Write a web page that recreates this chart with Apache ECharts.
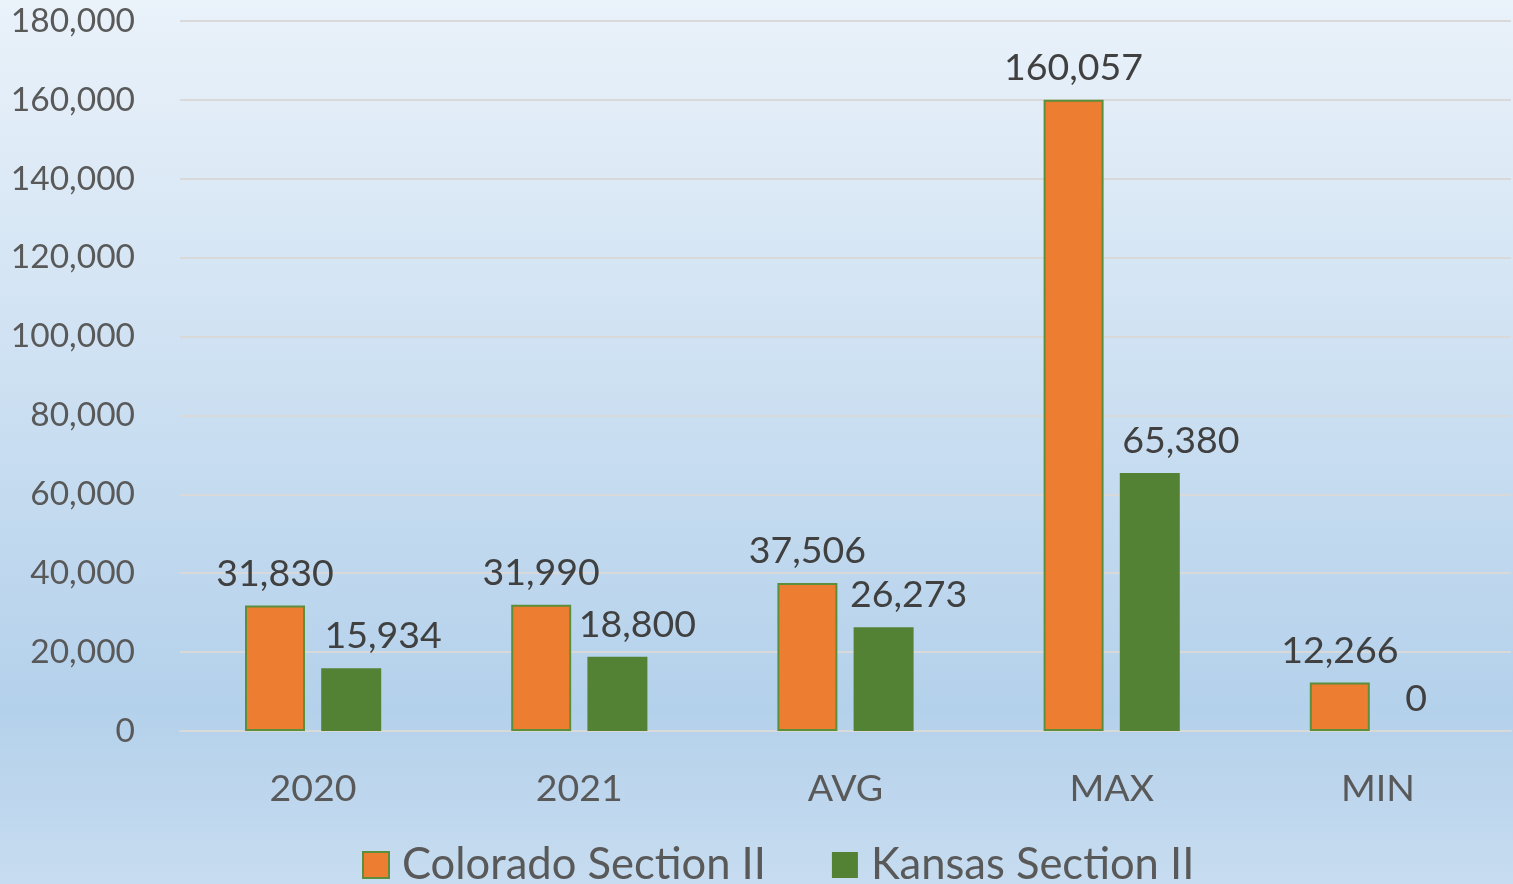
<!DOCTYPE html>
<html>
<head>
<meta charset="utf-8">
<script src="https://cdn.jsdelivr.net/npm/echarts@6/dist/echarts.min.js"></script>
<style>
html,body{margin:0;padding:0;width:1513px;height:884px;overflow:hidden;}
#c{width:1513px;height:884px;}
</style>
</head>
<body>
<div id="c"></div>
<script>
const categories = ['2020', '2021', 'AVG', 'MAX', 'MIN'];
const coloradoValues = [31830, 31990, 37506, 160057, 12266];
const kansasValues = [15934, 18800, 26273, 65380, 0];
const seriesNames = ['Colorado Section II', 'Kansas Section II'];
const yTicks = { min: 0, max: 180000, interval: 20000 };

// label horizontal nudges (styling only)
const kansasLabelShift = [32, 20, 25, 31, 0];

const fmt = v => v.toLocaleString('en-US');
const FONT = 'Lato, "Open Sans", sans-serif';

const chart = echarts.init(document.getElementById('c'));
chart.setOption({
  animation: false,
  backgroundColor: {
    type: 'linear', x: 0, y: 0, x2: 0, y2: 1,
    colorStops: [
      { offset: 0, color: '#eaf2fa' },
      { offset: 0.8, color: '#b4d1eb' },
      { offset: 1, color: '#c7dcf0' }
    ]
  },
  textStyle: { fontFamily: FONT },
  grid: { left: 180, right: 2, top: 21, bottom: 153, containLabel: false },
  legend: {
    data: seriesNames,
    top: 838,
    left: 357,
    itemWidth: 26,
    itemHeight: 26,
    itemGap: 66,
    icon: 'rect',
    textStyle: { fontSize: 43.5, color: '#595959', fontFamily: FONT, padding: [0, 0, 0, 8] }
  },
  xAxis: {
    type: 'category',
    data: categories,
    axisLine: { show: true, lineStyle: { color: '#d9d9d9', width: 2 } },
    axisTick: { show: false },
    axisLabel: { fontSize: 37.5, color: '#595959', margin: 39, fontFamily: FONT }
  },
  yAxis: {
    type: 'value',
    min: yTicks.min, max: yTicks.max, interval: yTicks.interval,
    axisLine: { show: false },
    axisTick: { show: false },
    splitLine: { lineStyle: { color: '#d9d9d9', width: 2 } },
    axisLabel: { fontSize: 33.5, color: '#595959', margin: 45, fontFamily: FONT, formatter: v => fmt(v) }
  },
  series: [
    {
      name: seriesNames[0],
      type: 'bar',
      data: coloradoValues,
      barWidth: 60,
      barGap: '27%',
      itemStyle: { color: '#ed7d31', borderColor: '#5b8f3b', borderWidth: 2 },
      label: {
        show: true, position: 'top', distance: 13,
        fontSize: 37.5, color: '#404040', fontFamily: FONT,
        formatter: p => fmt(p.value)
      }
    },
    {
      name: seriesNames[1],
      type: 'bar',
      data: kansasValues.map((v, i) => ({
        value: v,
        label: { offset: [kansasLabelShift[i], 0] }
      })),
      barWidth: 60,
      itemStyle: { color: '#548235', borderWidth: 0 },
      label: {
        show: true, position: 'top', distance: 13,
        fontSize: 37.5, color: '#404040', fontFamily: FONT,
        formatter: p => fmt(p.value)
      }
    }
  ]
});
</script>
</body>
</html>
